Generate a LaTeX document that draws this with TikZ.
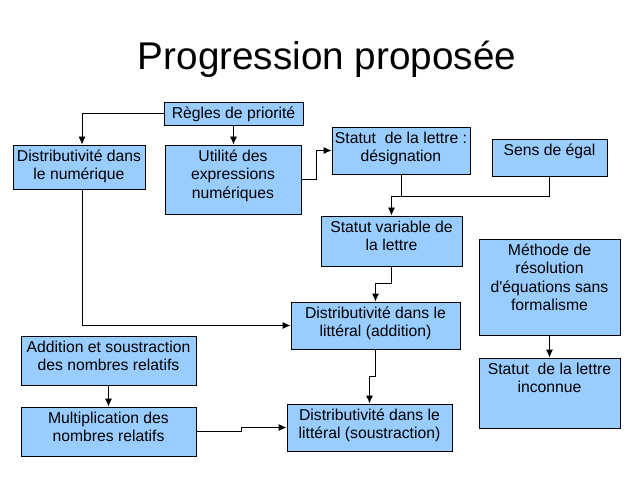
\documentclass[tikz,border=0pt]{standalone}
\usepackage{fontspec}
\setmainfont{Liberation Sans}
\usepackage{tikz}
\usetikzlibrary{arrows.meta,positioning,calc}
\definecolor{boxblue}{HTML}{99CCFF}
\newcommand{\boxfont}{\fontsize{15.8}{18.6}\selectfont}
\newcommand{\titlefont}{\fontsize{38.8}{40}\selectfont}

\begin{document}
\begin{tikzpicture}[x=1bp,y=-1bp,
    box/.style={draw=black, line width=0.9bp, fill=boxblue, inner sep=0pt},
    boxtext/.style={anchor=north, align=center, inner sep=0pt, yshift=-5bp, font=\boxfont},
    conn/.style={line width=0.9bp, -{Latex[length=8bp,width=7bp]}},
    link/.style={line width=0.9bp}]

    \useasboundingbox [fill=white] (0,0) rectangle (640,480);

    \node [anchor=base, font=\titlefont] (title) at (327,70) {Progression proposée};

    \node [box, minimum width=139bp, minimum height=23bp, label={[boxtext]north:Règles de priorité}] (regles) at (233.5,113.5) {};
    \node [box, minimum width=132bp, minimum height=44bp, label={[boxtext]north:Distributivité dans\\le numérique}] (distnum) at (79,167) {};
    \node [box, minimum width=136bp, minimum height=69bp, label={[boxtext]north:Utilité des\\expressions\\numériques}] (utilite) at (233,179.5) {};
    \node [box, minimum width=138bp, minimum height=47bp, label={[boxtext]north:Statut~ de la lettre :\\désignation}] (desig) at (401,150.5) {};
    \node [box, minimum width=115bp, minimum height=37bp, label={[boxtext]north:Sens de égal}] (sens) at (549.5,157.5) {};
    \node [box, minimum width=141bp, minimum height=50bp, label={[boxtext]north:Statut variable de\\la lettre}] (statvar) at (391.5,241) {};
    \node [box, minimum width=141bp, minimum height=96bp, label={[boxtext]north:Méthode de\\résolution\\d\textquotesingle équations sans\\formalisme}] (methode) at (549.5,287) {};
    \node [box, minimum width=141bp, minimum height=70bp, label={[boxtext]north:Statut~ de la lettre\\inconnue}] (statinc) at (549.5,393) {};
    \node [box, minimum width=169bp, minimum height=47bp, label={[boxtext]north:Distributivité dans le\\littéral (addition)}] (addlit) at (375.5,325.5) {};
    \node [box, minimum width=165bp, minimum height=47bp, label={[boxtext]north:Distributivité dans le\\littéral (soustraction)}] (souslit) at (369.5,427.5) {};
    \node [box, minimum width=175bp, minimum height=49bp, label={[boxtext]north:Addition et soustraction\\des nombres relatifs}] (addrel) at (108.5,360.5) {};
    \node [box, minimum width=175bp, minimum height=49bp, label={[boxtext]north:Multiplication des\\nombres relatifs}] (multrel) at (108.5,431.5) {};

    % connecteurs
    \draw [conn] (regles.west) -| ([xshift=3bp]distnum.north);
    \draw [conn] (regles.south) -- (regles.south |- utilite.north);
    \draw [conn] (utilite.east) -- ++(15,0) |- (desig.west);
    \coordinate (meet) at ($(desig.south)+(0,22)$);
    \draw [conn] (desig.south) -- (meet) -| (statvar.north);
    \draw [link] (sens.south) |- (meet);
    \draw [conn] (statvar.south) -- ++(0,17) -| (addlit.north);
    \draw [conn] ([xshift=3bp]distnum.south) |- (addlit.west);
    \draw [conn] (addlit.south) -- ++(0,27) -| (souslit.north);
    \draw [conn] (multrel.east) -- ++(45,0) |- (souslit.west);
    \draw [conn] (addrel) -- (multrel);
    \draw [conn] (methode) -- (statinc);
\end{tikzpicture}
\end{document}
